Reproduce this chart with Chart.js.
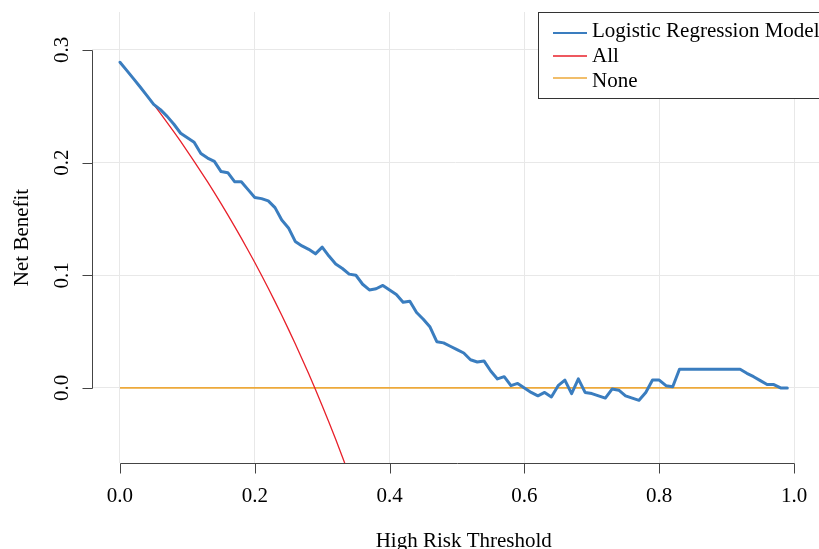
<!DOCTYPE html>
<html>
<head>
<meta charset="utf-8">
<title>Decision curve</title>
<script src="https://cdn.jsdelivr.net/npm/chart.js@4.4.0/dist/chart.umd.min.js"></script>
<style>
  html, body { margin: 0; padding: 0; background: #fff; }
  canvas { display: block; }
</style>
</head>
<body>
<canvas id="dca" width="819" height="549"></canvas>
<script>
// Threshold probabilities (x) and net benefit
const thresholds = [
  0.00, 0.01, 0.02, 0.03, 0.04, 0.05, 0.06, 0.07, 0.08, 0.09,
  0.10, 0.11, 0.12, 0.13, 0.14, 0.15, 0.16, 0.17, 0.18, 0.19,
  0.20, 0.21, 0.22, 0.23, 0.24, 0.25, 0.26, 0.27, 0.28, 0.29,
  0.30, 0.31, 0.32, 0.33, 0.34, 0.35, 0.36, 0.37, 0.38, 0.39,
  0.40, 0.41, 0.42, 0.43, 0.44, 0.45, 0.46, 0.47, 0.48, 0.49,
  0.50, 0.51, 0.52, 0.53, 0.54, 0.55, 0.56, 0.57, 0.58, 0.59,
  0.60, 0.61, 0.62, 0.63, 0.64, 0.65, 0.66, 0.67, 0.68, 0.69,
  0.70, 0.71, 0.72, 0.73, 0.74, 0.75, 0.76, 0.77, 0.78, 0.79,
  0.80, 0.81, 0.82, 0.83, 0.84, 0.85, 0.86, 0.87, 0.88, 0.89,
  0.90, 0.91, 0.92, 0.93, 0.94, 0.95, 0.96, 0.97, 0.98, 0.99
];
const modelNB = [
  0.289, 0.2818, 0.2745, 0.267, 0.2594, 0.2516, 0.247, 0.241, 0.234, 0.226,
  0.222, 0.218, 0.208, 0.204, 0.201, 0.192, 0.191, 0.183, 0.183, 0.176,
  0.169, 0.168, 0.166, 0.160, 0.149, 0.142, 0.130, 0.126, 0.123, 0.119,
  0.125, 0.117, 0.110, 0.106, 0.101, 0.100, 0.092, 0.087, 0.088, 0.091,
  0.087, 0.083, 0.076, 0.077, 0.067, 0.061, 0.054, 0.041, 0.040, 0.037,
  0.034, 0.031, 0.025, 0.023, 0.024, 0.015, 0.008, 0.010, 0.002, 0.004,
  0.000, -0.004, -0.007, -0.004, -0.008, 0.002, 0.007, -0.005, 0.008, -0.004,
  -0.005, -0.007, -0.009, -0.001, -0.002, -0.007, -0.009, -0.011, -0.004, 0.007,
  0.007, 0.002, 0.001, 0.0166, 0.0166, 0.0166, 0.0166, 0.0166, 0.0166, 0.0166,
  0.0166, 0.0166, 0.0166, 0.013, 0.010, 0.0065, 0.003, 0.003, 0.000, 0.000
];
const allThresholds = [
  0.00, 0.01, 0.02, 0.03, 0.04, 0.05, 0.06, 0.07, 0.08, 0.09,
  0.10, 0.11, 0.12, 0.13, 0.14, 0.15, 0.16, 0.17, 0.18, 0.19,
  0.20, 0.21, 0.22, 0.23, 0.24, 0.25, 0.26, 0.27, 0.28, 0.29,
  0.30, 0.31, 0.32, 0.33, 0.34
];
const allNB = [
  0.2890, 0.2818, 0.2745, 0.2670, 0.2594, 0.2516, 0.2436, 0.2355, 0.2272, 0.2187,
  0.2100, 0.2011, 0.1920, 0.1828, 0.1733, 0.1635, 0.1536, 0.1434, 0.1329, 0.1222,
  0.1113, 0.1000, 0.0885, 0.0766, 0.0645, 0.0520, 0.0392, 0.0260, 0.0125, -0.0014,
  -0.0157, -0.0304, -0.0456, -0.0612, -0.0773
];
const noneThresholds = [0.00, 0.99];
const noneNB = [0, 0];

const xTicks = [0, 0.2, 0.4, 0.6, 0.8, 1.0];
const xTickLabels = ['0.0', '0.2', '0.4', '0.6', '0.8', '1.0'];
const yTicks = [0, 0.1, 0.2, 0.3];
const yTickLabels = ['0.0', '0.1', '0.2', '0.3'];

const FONT = '21px "Liberation Serif", "Times New Roman", serif';

function toPoints(xs, ys) {
  return xs.map((x, i) => ({ x: x, y: ys[i] }));
}

// R-style axes, labels and legend box
const baseGraphics = {
  id: 'baseGraphics',
  afterDraw(chart) {
    const { ctx, chartArea: area, scales: { x, y } } = chart;
    ctx.save();
    ctx.strokeStyle = '#444';
    ctx.lineWidth = 1;
    ctx.fillStyle = '#000';
    ctx.font = FONT;

    // x axis
    const yb = Math.round(area.bottom) + 0.5;
    ctx.beginPath();
    ctx.moveTo(Math.round(x.getPixelForValue(xTicks[0])) + 0.5, yb);
    ctx.lineTo(Math.round(x.getPixelForValue(xTicks[xTicks.length - 1])) + 0.5, yb);
    xTicks.forEach(v => {
      const px = Math.round(x.getPixelForValue(v)) + 0.5;
      ctx.moveTo(px, yb);
      ctx.lineTo(px, yb + 10);
    });
    ctx.stroke();
    ctx.textAlign = 'center';
    ctx.textBaseline = 'middle';
    xTicks.forEach((v, i) => ctx.fillText(xTickLabels[i], x.getPixelForValue(v), yb + 33));
    ctx.fillText('High Risk Threshold', x.getPixelForValue(0.51), yb + 78);

    // y axis
    const xl = Math.round(area.left) + 0.5;
    ctx.beginPath();
    ctx.moveTo(xl, Math.round(y.getPixelForValue(yTicks[0])) + 0.5);
    ctx.lineTo(xl, Math.round(y.getPixelForValue(yTicks[yTicks.length - 1])) + 0.5);
    yTicks.forEach(v => {
      const py = Math.round(y.getPixelForValue(v)) + 0.5;
      ctx.moveTo(xl, py);
      ctx.lineTo(xl - 10, py);
    });
    ctx.stroke();
    yTicks.forEach((v, i) => {
      ctx.save();
      ctx.translate(xl - 30, y.getPixelForValue(v));
      ctx.rotate(-Math.PI / 2);
      ctx.fillText(yTickLabels[i], 0, 0);
      ctx.restore();
    });
    ctx.save();
    ctx.translate(xl - 70, (area.top + area.bottom) / 2);
    ctx.rotate(-Math.PI / 2);
    ctx.fillText('Net Benefit', 0, 0);
    ctx.restore();

    // legend
    const lx = 538.5, ly = 12.5, lh = 86;
    ctx.fillStyle = '#fff';
    ctx.fillRect(lx, ly, chart.width - lx + 10, lh);
    ctx.strokeStyle = '#333';
    ctx.strokeRect(lx, ly, chart.width - lx + 10, lh);
    const rows = [33, 56, 78];
    const bases = [37, 62, 87];
    chart.data.datasets.forEach((ds, i) => {
      ctx.strokeStyle = ds.borderColor;
      ctx.lineWidth = ds.borderWidth > 2 ? 2 : 1.4;
      ctx.beginPath();
      ctx.moveTo(553, rows[i]);
      ctx.lineTo(587, rows[i]);
      ctx.stroke();
      ctx.fillStyle = '#000';
      ctx.textAlign = 'left';
      ctx.textBaseline = 'alphabetic';
      ctx.fillText(ds.label, 592, bases[i]);
    });
    ctx.restore();
  }
};

function fixedTicks(values) {
  return scale => { scale.ticks = values.map(v => ({ value: v })); };
}

new Chart(document.getElementById('dca'), {
  type: 'line',
  data: {
    datasets: [
      {
        label: 'Logistic Regression Model',
        data: toPoints(thresholds, modelNB),
        borderColor: '#3a7dbf',
        borderWidth: 3,
        borderJoinStyle: 'round',
        borderCapStyle: 'round',
        pointRadius: 0,
        order: 0
      },
      {
        label: 'All',
        data: toPoints(allThresholds, allNB),
        borderColor: '#e8202a',
        borderWidth: 1.3,
        pointRadius: 0,
        order: 1
      },
      {
        label: 'None',
        data: toPoints(noneThresholds, noneNB),
        borderColor: '#eda93a',
        borderWidth: 1.7,
        pointRadius: 0,
        order: 2
      }
    ]
  },
  options: {
    responsive: false,
    animation: false,
    devicePixelRatio: 1,
    layout: { padding: { left: 92, top: 12, right: 0, bottom: 86 } },
    plugins: {
      legend: { display: false },
      tooltip: { enabled: false }
    },
    scales: {
      x: {
        type: 'linear',
        min: -0.0415,
        max: 1.037,
        ticks: { display: false },
        grid: { color: '#e8e8e8', lineWidth: 1, drawTicks: false },
        border: { display: false },
        afterBuildTicks: fixedTicks(xTicks)
      },
      y: {
        type: 'linear',
        min: -0.0666,
        max: 0.3336,
        ticks: { display: false },
        grid: { color: '#e8e8e8', lineWidth: 1, drawTicks: false },
        border: { display: false },
        afterBuildTicks: fixedTicks(yTicks)
      }
    }
  },
  plugins: [baseGraphics]
});
</script>
</body>
</html>
